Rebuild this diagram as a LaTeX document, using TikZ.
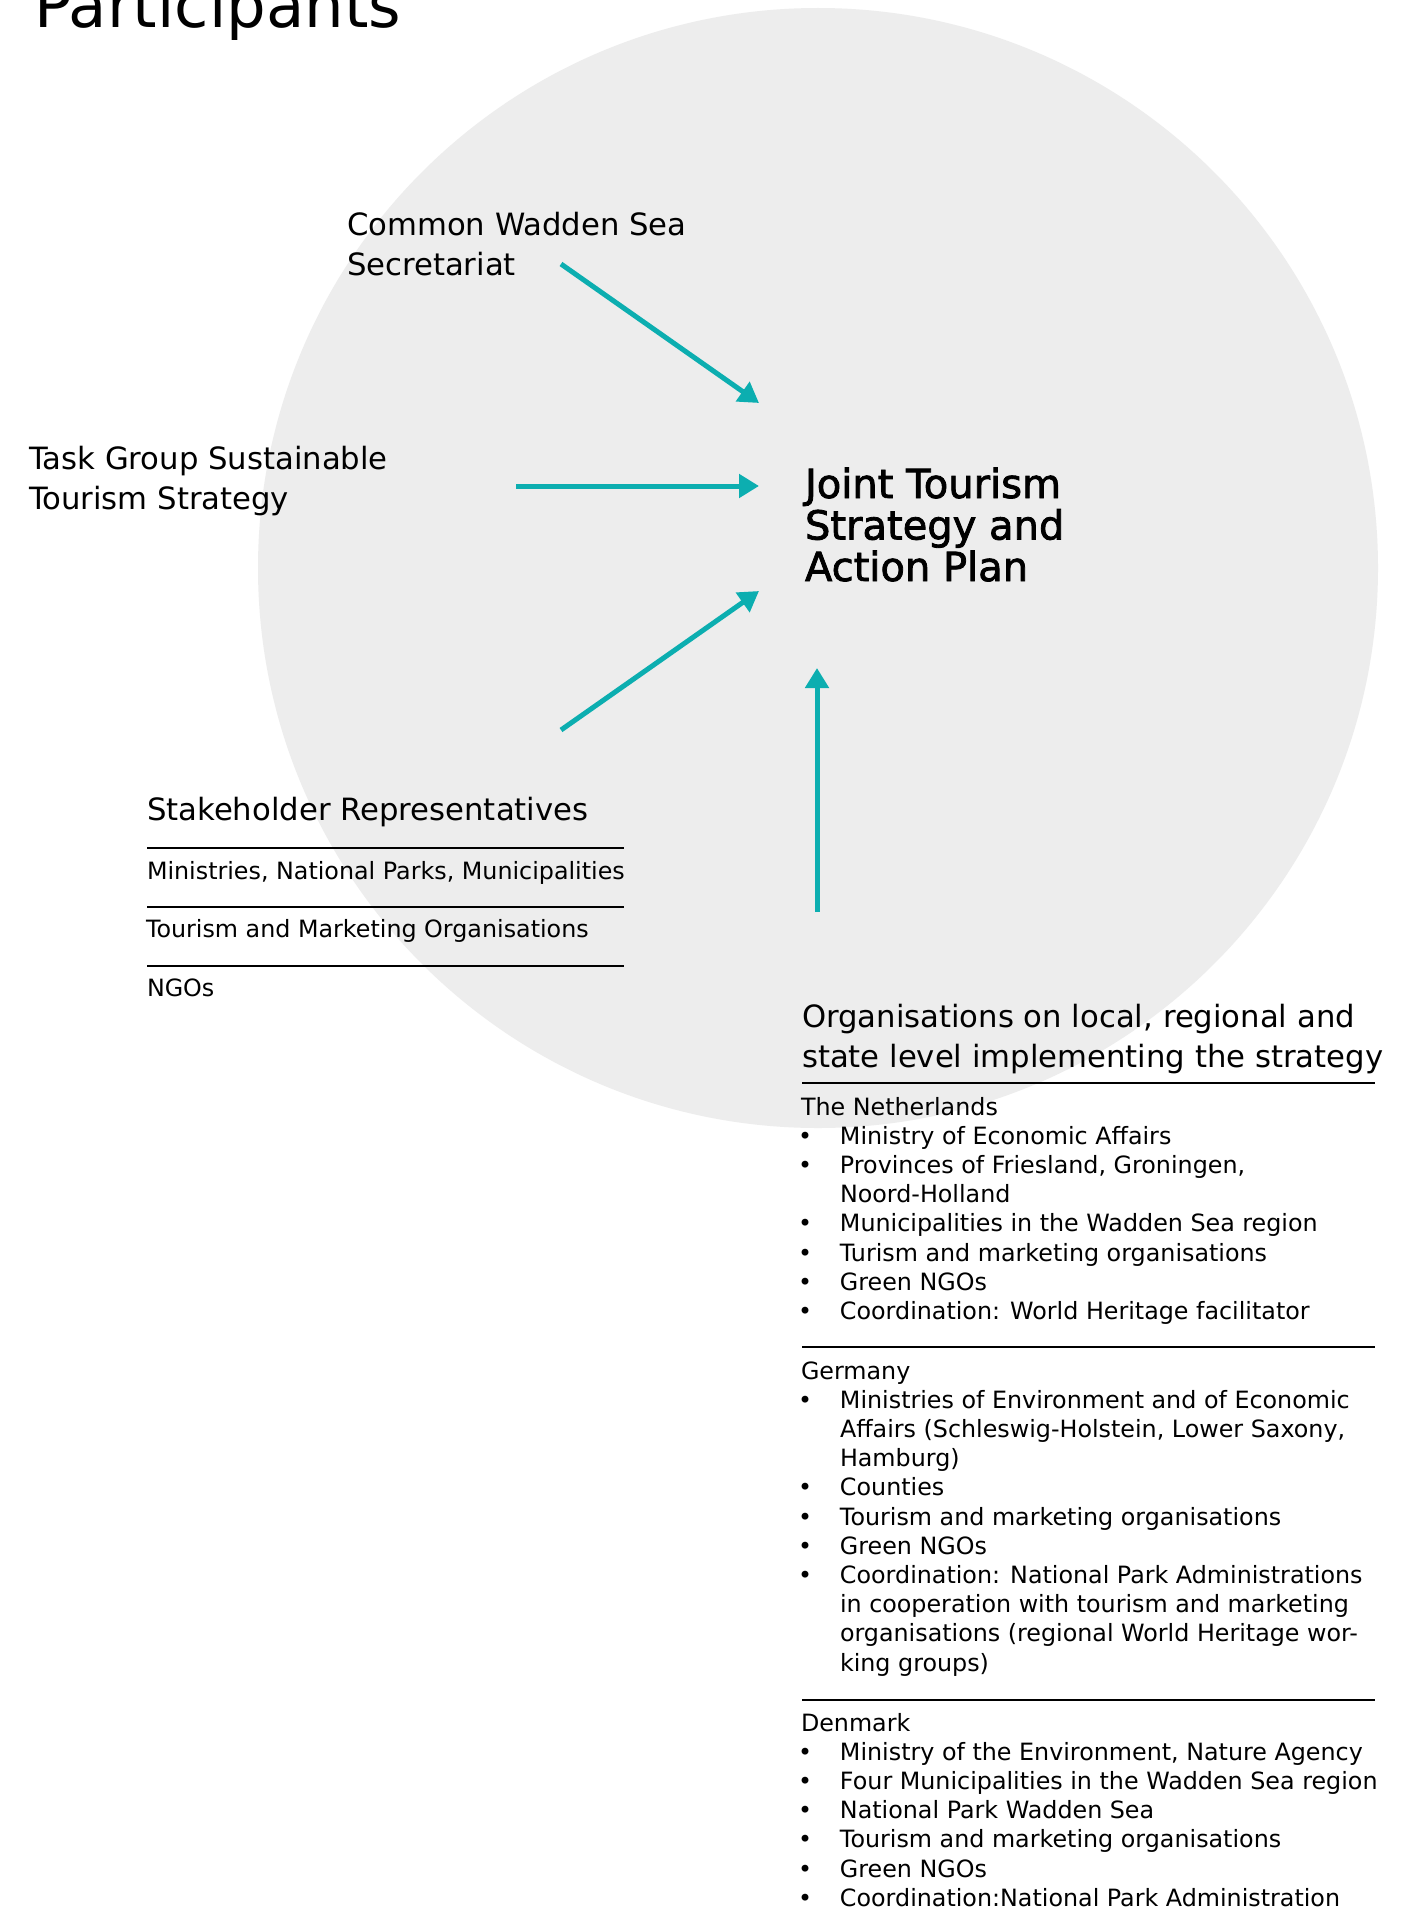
\documentclass[tikz,border=0pt]{standalone}
\usepackage{fontspec}
\setmainfont{DejaVu Sans}
\newfontfamily\jtfont[FakeBold=2]{DejaVu Sans}
\usetikzlibrary{arrows.meta}
\definecolor{tealA}{RGB}{12,174,176}
\definecolor{circA}{RGB}{237,237,237}
\newcommand\lbul{\makebox[42pt][l]{•}}
\newcommand\lind{\hspace*{42pt}}
\begin{document}
\begin{tikzpicture}[x=1pt,y=-1pt,
  txt/.style={anchor=base west, inner sep=0pt, outer sep=0pt, align=left},
  big/.style={font=\fontsize{30.7}{40}\selectfont},
  small/.style={font=\fontsize{23.8}{29.2}\selectfont},
  arr/.style={draw=tealA, line width=5pt, -{Triangle[length=20pt,width=23pt]}},
  rulel/.style={draw=black, line width=2pt}]
\useasboundingbox (0,0) rectangle (1412,1908);
\fill[white] (0,0) rectangle (1412,1908);
% big circle
\fill[circA] (818,568) circle[radius=560];
% title (anchored at baseline of its only line)
\node[txt, font=\fontsize{62.5}{70}\selectfont] (title) at (34,28) {Participants};
% sources (multi-line nodes: anchor = baseline of last line)
\node[txt, big] (cwss) at (347,275) {Common Wadden Sea\\Secretariat};
\node[txt, big] (tg) at (29,509) {Task Group Sustainable\\Tourism Strategy};
% target
\node[txt, font=\fontsize{40}{41.5}\selectfont\jtfont] (jt) at (805,581) {Joint Tourism\\Strategy and\\Action Plan};
% stakeholders
\node[txt, big] (sh) at (147,820) {Stakeholder Representatives};
\coordinate (shl1a) at (147,848); \coordinate (shl1b) at (624,848);
\coordinate (shl2a) at (147,907); \coordinate (shl2b) at (624,907);
\coordinate (shl3a) at (147,966); \coordinate (shl3b) at (624,966);
\draw[rulel] (shl1a) -- (shl1b);
\draw[rulel] (shl2a) -- (shl2b);
\draw[rulel] (shl3a) -- (shl3b);
\node[txt, small] (sh1) at (147,879) {Ministries, National Parks, Municipalities};
\node[txt, small] (sh2) at (146,937) {Tourism and Marketing Organisations};
\node[txt, small] (sh3) at (147,996) {NGOs};
% organisations
\node[txt, big] (org) at (802,1067) {Organisations on local, regional and\\state level implementing the strategy};
\coordinate (or1a) at (802,1083); \coordinate (or1b) at (1375,1083);
\coordinate (or2a) at (802,1347); \coordinate (or2b) at (1375,1347);
\coordinate (or3a) at (802,1700); \coordinate (or3b) at (1375,1700);
\draw[rulel] (or1a) -- (or1b);
\draw[rulel] (or2a) -- (or2b);
\draw[rulel] (or3a) -- (or3b);
\node[txt, small] (nl) at (798,1319.4) {\hspace*{3pt}The Netherlands\\
\lbul Ministry of Economic Affairs\\
\lbul Provinces of Friesland, Groningen,\\
\lind Noord-Holland\\
\lbul Municipalities in the Wadden Sea region\\
\lbul Turism and marketing organisations\\
\lbul Green NGOs\\
\lbul Coordination: World Heritage facilitator};
\node[txt, small] (de) at (798,1671) {\hspace*{3pt}Germany\\
\lbul Ministries of Environment and of Economic\\
\lind Affairs (Schleswig-Holstein, Lower Saxony,\\
\lind Hamburg)\\
\lbul Counties\\
\lbul Tourism and marketing organisations\\
\lbul Green NGOs\\
\lbul Coordination: National Park Administrations\\
\lind in cooperation with tourism and marketing\\
\lind organisations (regional World Heritage wor-\\
\lind king groups)};
\node[txt, small] (dk) at (798,1906.2) {\hspace*{3pt}Denmark\\
\lbul Ministry of the Environment, Nature Agency\\
\lbul Four Municipalities in the Wadden Sea region\\
\lbul National Park Wadden Sea\\
\lbul Tourism and marketing organisations\\
\lbul Green NGOs\\
\lbul Coordination:National Park Administration};
% arrows
\coordinate (cwssout) at (561,264); \coordinate (jtin1) at (759,403);
\coordinate (tgout) at (516,486); \coordinate (jtin2) at (759,486);
\coordinate (shout) at (561,730); \coordinate (jtin3) at (759,591);
\coordinate (orgout) at (817,912); \coordinate (jtin4) at (817,668);
\draw[arr] (cwssout) -- (jtin1);
\draw[arr] (tgout) -- (jtin2);
\draw[arr] (shout) -- (jtin3);
\draw[arr] (orgout) -- (jtin4);
\end{tikzpicture}
\end{document}
